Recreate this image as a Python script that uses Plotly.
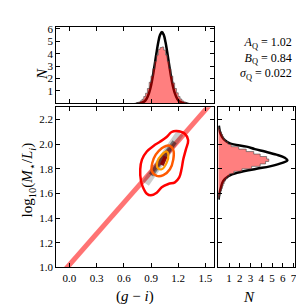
import plotly.graph_objects as go

# ---------------- data ----------------
A_Q = 1.02
B_Q = 0.84
SIGMA_Q = 0.022

# top histogram of (g - i)
gi_bin_centers = [0.73, 0.75, 0.77, 0.79, 0.81, 0.83, 0.85, 0.87, 0.89, 0.91, 0.93, 0.95, 0.97, 0.99,
                  1.01, 1.03, 1.05, 1.07, 1.09, 1.11, 1.13, 1.15, 1.17, 1.19, 1.21, 1.23, 1.25, 1.27,
                  1.29, 1.31]
gi_counts = [0.02, 0.05, 0.10, 0.20, 0.33, 0.55, 0.82, 1.20, 1.70, 2.20, 2.80, 3.40, 3.90, 4.35,
             4.50, 4.55, 4.30, 3.90, 3.40, 2.80, 2.20, 1.65, 1.20, 0.85, 0.55, 0.35, 0.20, 0.12,
             0.06, 0.03]
gi_bin_width = 0.02

# model curve for (g - i)
gi_curve_x = [0.74, 0.78, 0.82, 0.85, 0.88, 0.90, 0.92, 0.94, 0.96, 0.98, 1.00, 1.02, 1.04, 1.06,
              1.08, 1.10, 1.12, 1.14, 1.16, 1.19, 1.22, 1.26, 1.30]
gi_curve_n = [0.0, 0.02, 0.12, 0.35, 0.87, 1.43, 2.19, 3.10, 4.06, 4.93, 5.53, 5.75, 5.53, 4.93,
              4.06, 3.10, 2.19, 1.43, 0.87, 0.35, 0.12, 0.02, 0.0]

# right histogram of log10(M*/L_i)
ml_bin_centers = [1.57, 1.59, 1.61, 1.63, 1.65, 1.67, 1.69, 1.71, 1.73, 1.75, 1.77, 1.79, 1.81, 1.83,
                  1.85, 1.87, 1.89, 1.91, 1.93, 1.95, 1.97, 1.99, 2.01, 2.03, 2.05, 2.07, 2.09, 2.11,
                  2.13]
ml_counts = [0.08, 0.15, 0.22, 0.30, 0.38, 0.45, 0.55, 0.65, 0.82, 1.05, 1.45, 2.20, 3.10, 3.90,
             4.40, 4.70, 4.50, 3.90, 3.30, 2.60, 1.90, 1.20, 0.90, 0.65, 0.50, 0.40, 0.30, 0.18,
             0.06]
ml_bin_width = 0.02

# model curve for log10(M*/L_i)
ml_curve_y = [1.55, 1.60, 1.65, 1.70, 1.74, 1.77, 1.80, 1.82, 1.85, 1.867, 1.89, 1.915, 1.94, 1.96,
              1.98, 2.006, 2.033, 2.06, 2.10, 2.15]
ml_curve_n = [0.03, 0.10, 0.25, 0.45, 0.93, 1.86, 3.56, 4.80, 6.03, 6.43, 6.19, 5.41, 4.33, 3.40,
              2.63, 1.08, 0.60, 0.35, 0.15, 0.05]

# density ridge (grey) in main panel
ridge_x = [0.84, 1.22]
ridge_y = [1.68, 2.09]
ridge_core_x = [0.90, 1.16]
ridge_core_y = [1.75, 2.02]
peak_x = [1.02, 1.06]
peak_y = [1.83, 1.90]

# contours
outer_x = [1.181, 1.272, 1.309, 1.283, 1.255, 1.236, 1.211, 1.163, 1.091, 1.018, 0.963, 0.898,
           0.854, 0.811, 0.789, 0.781, 0.800, 0.854, 0.927, 0.999, 1.072, 1.127, 1.181]
outer_y = [2.107, 2.085, 2.033, 1.954, 1.875, 1.796, 1.730, 1.690, 1.677, 1.651, 1.606, 1.585,
           1.598, 1.651, 1.704, 1.796, 1.875, 1.941, 1.986, 2.020, 2.059, 2.099, 2.107]
mid_x = [1.108, 1.145, 1.145, 1.108, 1.036, 0.963, 0.909, 0.914, 0.952, 1.018, 1.065, 1.108]
mid_y = [1.986, 1.954, 1.875, 1.796, 1.749, 1.743, 1.783, 1.848, 1.915, 1.967, 1.986, 1.986]
inner_x = [1.072, 1.091, 1.072, 1.018, 0.971, 0.971, 1.018, 1.072]
inner_y = [1.941, 1.915, 1.848, 1.796, 1.809, 1.862, 1.915, 1.941]

gi_ticks = [0.0, 0.3, 0.6, 0.9, 1.2, 1.5]
ml_ticks = [1.0, 1.2, 1.4, 1.6, 1.8, 2.0, 2.2]
top_n_ticks = [1, 2, 3, 4, 5, 6]
right_n_ticks = [1, 2, 3, 4, 5, 6, 7]

# ---------------- figure ----------------
FONT = "Liberation Serif"
fig = go.Figure()

# main panel: relation line
line_x = [-0.2, 1.7]
line_y = [A_Q + B_Q * v for v in line_x]
fig.add_trace(go.Scatter(x=line_x, y=line_y, mode="lines",
                         line=dict(color="rgba(255,0,0,0.55)", width=5),
                         xaxis="x", yaxis="y", hoverinfo="skip"))
# density ridge
fig.add_trace(go.Scatter(x=ridge_x, y=ridge_y, mode="lines",
                         line=dict(color="rgba(0,0,0,0.2)", width=8),
                         xaxis="x", yaxis="y", hoverinfo="skip"))
fig.add_trace(go.Scatter(x=ridge_core_x, y=ridge_core_y, mode="lines",
                         line=dict(color="rgba(0,0,0,0.45)", width=5),
                         xaxis="x", yaxis="y", hoverinfo="skip"))
fig.add_trace(go.Scatter(x=peak_x, y=peak_y, mode="lines",
                         line=dict(color="rgba(140,0,0,0.95)", width=4),
                         xaxis="x", yaxis="y", hoverinfo="skip"))
# contours
fig.add_trace(go.Scatter(x=outer_x, y=outer_y, mode="lines", line=dict(color="#ff0000", width=2.5, shape="spline"),
                         xaxis="x", yaxis="y", hoverinfo="skip"))
fig.add_trace(go.Scatter(x=mid_x, y=mid_y, mode="lines", line=dict(color="#ff5a00", width=2.5, shape="spline"),
                         xaxis="x", yaxis="y", hoverinfo="skip"))
fig.add_trace(go.Scatter(x=inner_x, y=inner_y, mode="lines", line=dict(color="#ff9a00", width=2.2, shape="spline"),
                         xaxis="x", yaxis="y", hoverinfo="skip"))

# top panel: model curve then histogram
fig.add_trace(go.Scatter(x=gi_curve_x, y=gi_curve_n, mode="lines",
                         line=dict(color="black", width=2.5, shape="spline"),
                         xaxis="x2", yaxis="y2", hoverinfo="skip"))
gi_edges = [c - gi_bin_width / 2 for c in gi_bin_centers] + [gi_bin_centers[-1] + gi_bin_width / 2]
fig.add_trace(go.Scatter(x=[gi_edges[0]] + gi_edges[:-1] + [gi_edges[-1]],
                         y=[0] + gi_counts + [0], mode="lines",
                         line=dict(color="rgba(70,70,70,0.6)", width=1, shape="hv"),
                         fill="tozeroy", fillcolor="rgba(255,0,0,0.5)",
                         xaxis="x2", yaxis="y2", hoverinfo="skip"))

# right panel: model curve then histogram
fig.add_trace(go.Scatter(x=ml_curve_n, y=ml_curve_y, mode="lines",
                         line=dict(color="black", width=2.5, shape="spline"),
                         xaxis="x3", yaxis="y3", hoverinfo="skip"))
ml_edges = [c - ml_bin_width / 2 for c in ml_bin_centers] + [ml_bin_centers[-1] + ml_bin_width / 2]
fig.add_trace(go.Scatter(x=[0] + ml_counts + [0],
                         y=[ml_edges[0]] + ml_edges[:-1] + [ml_edges[-1]], mode="lines",
                         line=dict(color="rgba(70,70,70,0.6)", width=1, shape="vh"),
                         fill="tozerox", fillcolor="rgba(255,0,0,0.5)",
                         xaxis="x3", yaxis="y3", hoverinfo="skip"))

axis_common = dict(showgrid=False, zeroline=False, showline=True, linecolor="black", linewidth=1.2,
                   mirror="allticks", ticks="inside", ticklen=4, tickwidth=1, tickcolor="black",
                   tickfont=dict(family=FONT, size=11, color="black"))

X0, X1 = 48.5 / 304, 207 / 304
XR0, XR1 = 211.7 / 304, 289 / 304
Y0, Y1 = (304 - 264) / 304, (304 - 98.5) / 304
YT0, YT1 = (304 - 94.5) / 304, (304 - 15) / 304

fig.update_layout(
    width=304, height=304, margin=dict(l=0, r=0, t=0, b=0),
    paper_bgcolor="white", plot_bgcolor="white", showlegend=False,
    xaxis=dict(domain=[X0, X1], range=[-0.145, 1.59], tickvals=gi_ticks,
               ticktext=["%.1f" % v for v in gi_ticks], anchor="y", **axis_common),
    yaxis=dict(domain=[Y0, Y1], range=[1.0, 2.3], tickvals=ml_ticks,
               ticktext=["%.1f" % v for v in ml_ticks], anchor="x", **axis_common),
    xaxis2=dict(domain=[X0, X1], range=[-0.145, 1.59], tickvals=gi_ticks, showticklabels=False,
                anchor="y2", **axis_common),
    yaxis2=dict(domain=[YT0, YT1], range=[0, 6.2], tickvals=top_n_ticks, anchor="x2", **axis_common),
    xaxis3=dict(domain=[XR0, XR1], range=[0, 7.15], tickvals=right_n_ticks, anchor="y3", **axis_common),
    yaxis3=dict(domain=[Y0, Y1], range=[1.0, 2.3], tickvals=ml_ticks, showticklabels=False,
                anchor="x3", **axis_common),
)

param_text = "<br>".join([
    "<i>A</i><sub>Q</sub> = %.2f" % A_Q,
    "<i>B</i><sub>Q</sub> = %.2f" % B_Q,
    "<i>σ</i><sub>Q</sub> = %.3f" % SIGMA_Q,
])
annotations = [
    dict(text="(<i>g</i> − <i>i</i>)", x=128 / 304, y=0, xref="paper", yref="paper",
         yanchor="bottom", borderpad=0, showarrow=False, font=dict(family=FONT, size=15, color="black")),
    dict(text="log<sub>10</sub>(<i>M</i><sub>⋆</sub>/<i>L<sub>i</sub></i>)", x=10 / 304, y=(304 - 214) / 304,
         xref="paper", yref="paper", showarrow=False, textangle=-90,
         font=dict(family=FONT, size=15, color="black")),
    dict(text="<i>N</i>", x=24 / 304, y=(304 - 56) / 304, xref="paper", yref="paper",
         showarrow=False, textangle=-90, font=dict(family=FONT, size=15, color="black")),
    dict(text="<i>N</i>", x=250 / 304, y=0, xref="paper", yref="paper", yanchor="bottom", borderpad=0,
         showarrow=False, font=dict(family=FONT, size=15, color="black")),
    dict(text=param_text, x=288 / 304, y=(304 - 48) / 304, xref="paper", yref="paper",
         xanchor="right", yanchor="middle", align="right", showarrow=False,
         font=dict(family=FONT, size=12, color="black")),
]
fig.update_layout(annotations=annotations)

fig.write_html("out.html")
